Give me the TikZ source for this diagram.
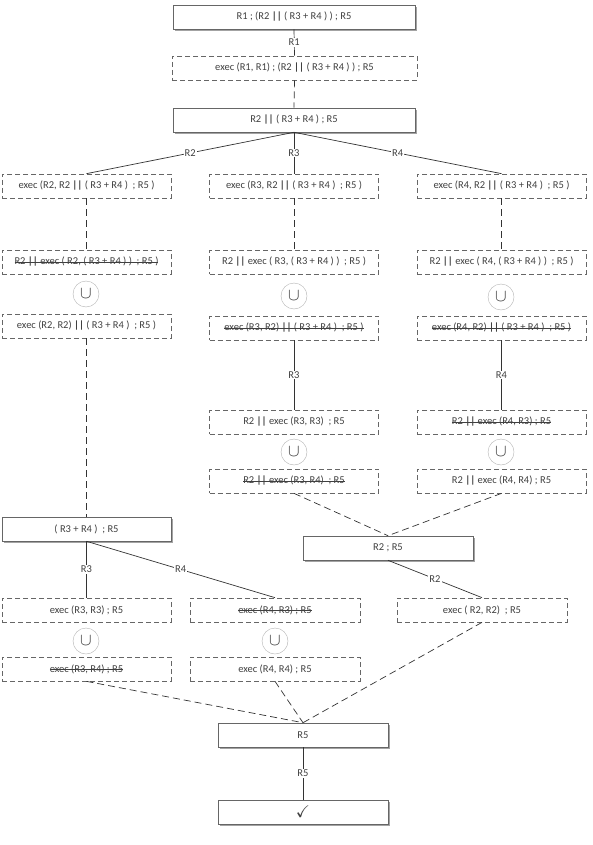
\documentclass[tikz,border=0pt]{standalone}
\usepackage{fontspec}
\setmainfont{Carlito}
\usepackage{amssymb}
\usetikzlibrary{shadows}
\newcommand{\pl}{\textbf{||}}
\newsavebox{\stbox}
\newcommand{\strk}[1]{\sbox{\stbox}{#1}\rlap{\raisebox{0.5ex}{\rule{\wd\stbox}{0.55pt}}}\usebox{\stbox}}
\begin{document}
\begin{tikzpicture}[x=1pt,y=-1pt,
  box/.style={draw=black!60, fill=white, minimum width=169pt, minimum height=24pt, inner sep=0pt, font=\fontsize{10.5}{12}\selectfont, text=black!75},
  sbox/.style={box, line width=0.6pt, drop shadow={shadow xshift=2pt, shadow yshift=-2pt, fill=black!45, opacity=.8}},
  dbox/.style={box, dash pattern=on 5pt off 3pt, line width=0.7pt},
  uni/.style={circle, draw=black!30, fill=white, minimum size=26pt, inner sep=0pt, font=\fontsize{17}{17}\selectfont, text=black!80},
  link/.style={draw=black!80, line width=0.7pt},
  dlink/.style={link, dash pattern=on 7pt off 4pt},
  lab/.style={fill=white, inner sep=1pt, font=\fontsize{10.5}{12}\selectfont, text=black!75}
]
\useasboundingbox (0,0) rectangle (592,845);
% top chain
\node[sbox, minimum width=242pt] (n1) at (294,17) {R1 ; (R2 \pl{} ( R3 + R4 ) ) ; R5};
\node[dbox, minimum width=245pt] (n2) at (294.5,68) {exec (R1, R1) ; (R2 \pl{} ( R3 + R4 ) ) ; R5};
\node[sbox, minimum width=242pt] (n3) at (294,120) {R2 \pl{} ( R3 + R4 ) ; R5};
% row 1
\node[dbox] (a1) at (86.5,186) {exec (R2, R2 \pl{} ( R3 + R4 )~ ; R5 )};
\node[dbox] (b1) at (294,186) {exec (R3, R2 \pl{} ( R3 + R4 )~ ; R5 )};
\node[dbox] (c1) at (501.5,186) {exec (R4, R2 \pl{} ( R3 + R4 )~ ; R5 )};
% row 2
\node[dbox] (a2) at (86.5,262) {\strk{R2 \pl{} exec ( R2, ( R3 + R4 ) )~ ; R5 )}};
\node[dbox] (b2) at (294,262) {R2 \pl{} exec ( R3, ( R3 + R4 ) )~ ; R5 )};
\node[dbox] (c2) at (501.5,262) {R2 \pl{} exec ( R4, ( R3 + R4 ) )~ ; R5 )};
\node[uni] (ua) at (86,294) {$\cup$};
\node[uni] (ub) at (294,296) {$\cup$};
\node[uni] (uc) at (501,297) {$\cup$};
% row 3
\node[dbox] (a3) at (86.5,326) {exec (R2, R2) \pl{} ( R3 + R4 )~ ; R5 )};
\node[dbox] (b3) at (294,328) {\strk{exec (R3, R2) \pl{} ( R3 + R4 )~ ; R5 )}};
\node[dbox] (c3) at (501.5,328) {\strk{exec (R4, R2) \pl{} ( R3 + R4 )~ ; R5 )}};
% row 4
\node[dbox] (b4) at (294,422) {R2 \pl{} exec (R3, R3)~ ; R5};
\node[dbox] (c4) at (501.5,422) {\strk{R2 \pl{} exec (R4, R3) ; R5}};
\node[uni] (ub2) at (294,452) {$\cup$};
\node[uni] (uc2) at (501,452) {$\cup$};
\node[dbox] (b5) at (294,481) {\strk{R2 \pl{} exec (R3, R4)~ ; R5}};
\node[dbox] (c5) at (501.5,481) {R2 \pl{} exec (R4, R4) ; R5};
% middle
\node[sbox] (a4) at (86.5,529) {( R3 + R4 )~ ; R5};
\node[sbox, minimum width=170pt] (r25) at (388,548) {R2 ; R5};
% lower rows
\node[dbox] (d1) at (86.5,610) {exec (R3, R3) ; R5};
\node[dbox, minimum width=170pt] (e1) at (275,610) {\strk{exec (R4, R3) ; R5}};
\node[dbox, minimum width=170pt] (f1) at (482,610) {exec ( R2, R2)~ ; R5};
\node[uni] (ud) at (86,641) {$\cup$};
\node[uni] (ue) at (275,641) {$\cup$};
\node[dbox] (d2) at (86.5,669) {\strk{exec (R3, R4) ; R5}};
\node[dbox, minimum width=170pt] (e2) at (275,669) {exec (R4, R4) ; R5};
% bottom
\node[sbox, minimum width=170pt] (r5) at (303,735) {R5};
\node[sbox, minimum width=170pt] (ok) at (303,812) {\fontsize{17}{17}\selectfont$\checkmark$};
% connectors
\draw[link] (n1.south) -- node[lab] {R1} (n2.north);
\draw[dlink] (n2.south) -- (n3.north);
\draw[link] (n3.south) -- node[lab] {R2} (a1.north);
\draw[link] (n3.south) -- node[lab] {R3} (b1.north);
\draw[link] (n3.south) -- node[lab] {R4} (c1.north);
\draw[dlink] (a1.south) -- (a2.north);
\draw[dlink] (b1.south) -- (b2.north);
\draw[dlink] (c1.south) -- (c2.north);
\draw[dlink] (a3.south) -- (a4.north);
\draw[link] (b3.south) -- node[lab] {R3} (b4.north);
\draw[link] (c3.south) -- node[lab] {R4} (c4.north);
\draw[dlink] (b5.south) -- (r25.north);
\draw[dlink] (c5.south) -- (r25.north);
\draw[link] (a4.south) -- node[lab] {R3} (d1.north);
\draw[link] (a4.south) -- node[lab] {R4} (e1.north);
\draw[link] (r25.south) -- node[lab] {R2} (f1.north);
\draw[dlink] (d2.south) -- (r5.north);
\draw[dlink] (e2.south) -- (r5.north);
\draw[dlink] (f1.south) -- (r5.north);
\draw[link] (r5.south) -- node[lab] {R5} (ok.north);
\end{tikzpicture}
\end{document}
